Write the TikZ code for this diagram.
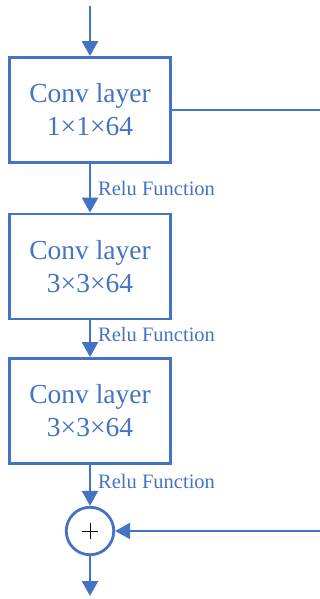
\documentclass[tikz,border=0pt]{standalone}
\usepackage{fontspec}
\setmainfont{Liberation Serif}
\usetikzlibrary{arrows.meta,calc}
\definecolor{cblue}{RGB}{68,114,196}
\tikzset{
  convbox/.style={draw=cblue, line width=2.8pt, minimum width=161pt, minimum height=105pt, inner sep=0pt, align=center, text=cblue, font=\fontsize{27.5}{33}\selectfont},
  flow/.style={draw=cblue, line width=2.4pt, -{Triangle[length=15pt,width=16pt]}},
  plainline/.style={draw=cblue, line width=2.4pt},
  relu/.style={anchor=west, text=cblue, inner sep=0pt, font=\fontsize{20.5}{24}\selectfont},
  sumnode/.style={draw=cblue, line width=2.8pt, circle, minimum size=47.5pt, inner sep=0pt},
  plussign/.style={draw=black, line width=0.9pt}
}
\begin{document}
\begin{tikzpicture}[x=1pt,y=-1pt]
\useasboundingbox (0,0) rectangle (320,599);
\node[convbox] (c1) at (90,110) {Conv layer\\1×1×64};
\node[convbox] (c2) at (90,266.5) {Conv layer\\3×3×64};
\node[convbox] (c3) at (90,411) {Conv layer\\3×3×64};
\node[sumnode] (s) at (90,531) {};
\draw[plussign] ($(s.center)+(-8,0)$) -- ($(s.center)+(8,0)$);
\draw[plussign] ($(s.center)+(0,-8)$) -- ($(s.center)+(0,8)$);
\coordinate (top) at (90,6);
\coordinate (bot) at (90,596);
\coordinate (r1) at (320,110);
\coordinate (r2) at (320,531);
\draw[flow] (top) -- (c1.north);
\draw[flow] (c1.south) -- (c2.north);
\draw[flow] (c2.south) -- (c3.north);
\draw[flow] (c3.south) -- (s.north);
\draw[flow] (s.south) -- (bot);
\draw[plainline] (c1.east) -- (r1);
\draw[flow] (r2) -- (s.east);
\node[relu] (l1) at (98,188) {Relu Function};
\node[relu] (l2) at (98,334) {Relu Function};
\node[relu] (l3) at (98,481) {Relu Function};
\end{tikzpicture}
\end{document}
